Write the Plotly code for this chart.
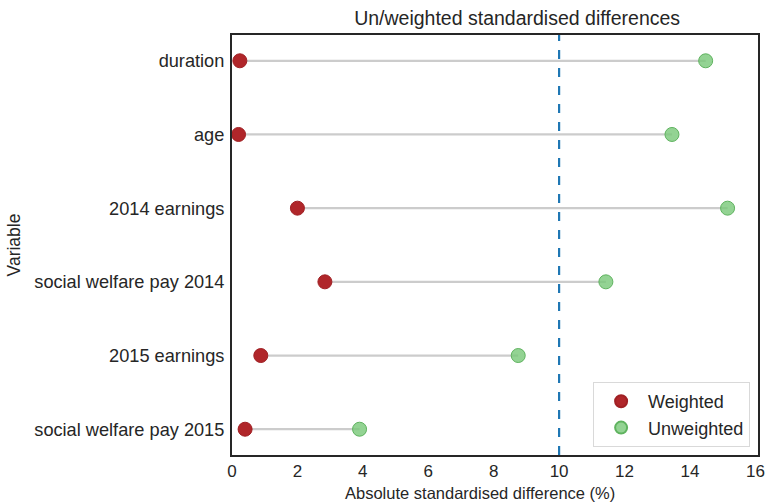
import plotly.graph_objects as go

variables = ["duration", "age", "2014 earnings", "social welfare pay 2014",
             "2015 earnings", "social welfare pay 2015"]
weighted = [0.24, 0.2, 2.0, 2.84, 0.88, 0.4]
unweighted = [14.48, 13.45, 15.15, 11.43, 8.75, 3.9]
x_ticks = [0, 2, 4, 6, 8, 10, 12, 14, 16]
threshold = 10

FONT = "Liberation Sans, Arial, sans-serif"

lx, ly = [], []
for v, w, u in zip(variables, weighted, unweighted):
    lx += [w, u, None]
    ly += [v, v, None]

fig = go.Figure()
fig.add_trace(go.Scatter(x=lx, y=ly, mode="lines",
                         line=dict(color="#cccccc", width=2.2),
                         showlegend=False, hoverinfo="skip"))
fig.add_trace(go.Scatter(x=weighted, y=variables, mode="markers", name="Weighted",
                         marker=dict(color="#b0262a", size=14,
                                     line=dict(color="#a02024", width=1))))
fig.add_trace(go.Scatter(x=unweighted, y=variables, mode="markers", name="Unweighted",
                         marker=dict(color="rgba(120,200,120,0.8)", size=14,
                                     line=dict(color="#5fb35f", width=1))))

fig.add_shape(type="line", x0=threshold, x1=threshold, y0=0, y1=1,
              xref="x", yref="paper",
              line=dict(color="#1f77b4", width=2.2, dash="dash"))

fig.add_annotation(text="Absolute standardised difference (%)", xref="paper", yref="paper",
                   x=0.4724, y=-0.0905, xanchor="center", yanchor="middle", showarrow=False,
                   font=dict(size=16.5, color="#262626"))

fig.update_layout(
    width=765, height=504,
    margin=dict(l=232, r=7, t=35, b=49, autoexpand=False),
    paper_bgcolor="white", plot_bgcolor="white",
    font=dict(family=FONT, size=18.2, color="#262626"),
    title=dict(text="Un/weighted standardised differences", x=0.676, xanchor="center",
               y=0.964, yanchor="middle", font=dict(size=19.5, color="#262626")),
    xaxis=dict(range=[0, 16.08], tickvals=x_ticks, showgrid=False, zeroline=False,
               showline=True, linecolor="#262626", linewidth=2, mirror=True,
               ticks="", ticklabeloverflow="allow", automargin=False,
               tickfont=dict(size=17)),
    yaxis=dict(type="category", categoryorder="array", categoryarray=variables,
               range=[5.35, -0.35], showgrid=False, zeroline=False,
               showline=True, linecolor="#262626", linewidth=2, mirror=True,
               ticks="", ticklabelstandoff=2, automargin=False,
               title=dict(text="Variable", font=dict(size=17.5), standoff=9),
               tickfont=dict(size=18.2)),
    legend=dict(x=0.985, xanchor="right", y=0.019, yanchor="bottom",
                bordercolor="#d9d9d9", borderwidth=1, bgcolor="white",
                font=dict(size=18), itemsizing="constant", itemwidth=44),
)

fig.write_html("out.html", config={"displayModeBar": False},
               post_script="document.body.style.margin='0';document.body.style.overflow='hidden';")
